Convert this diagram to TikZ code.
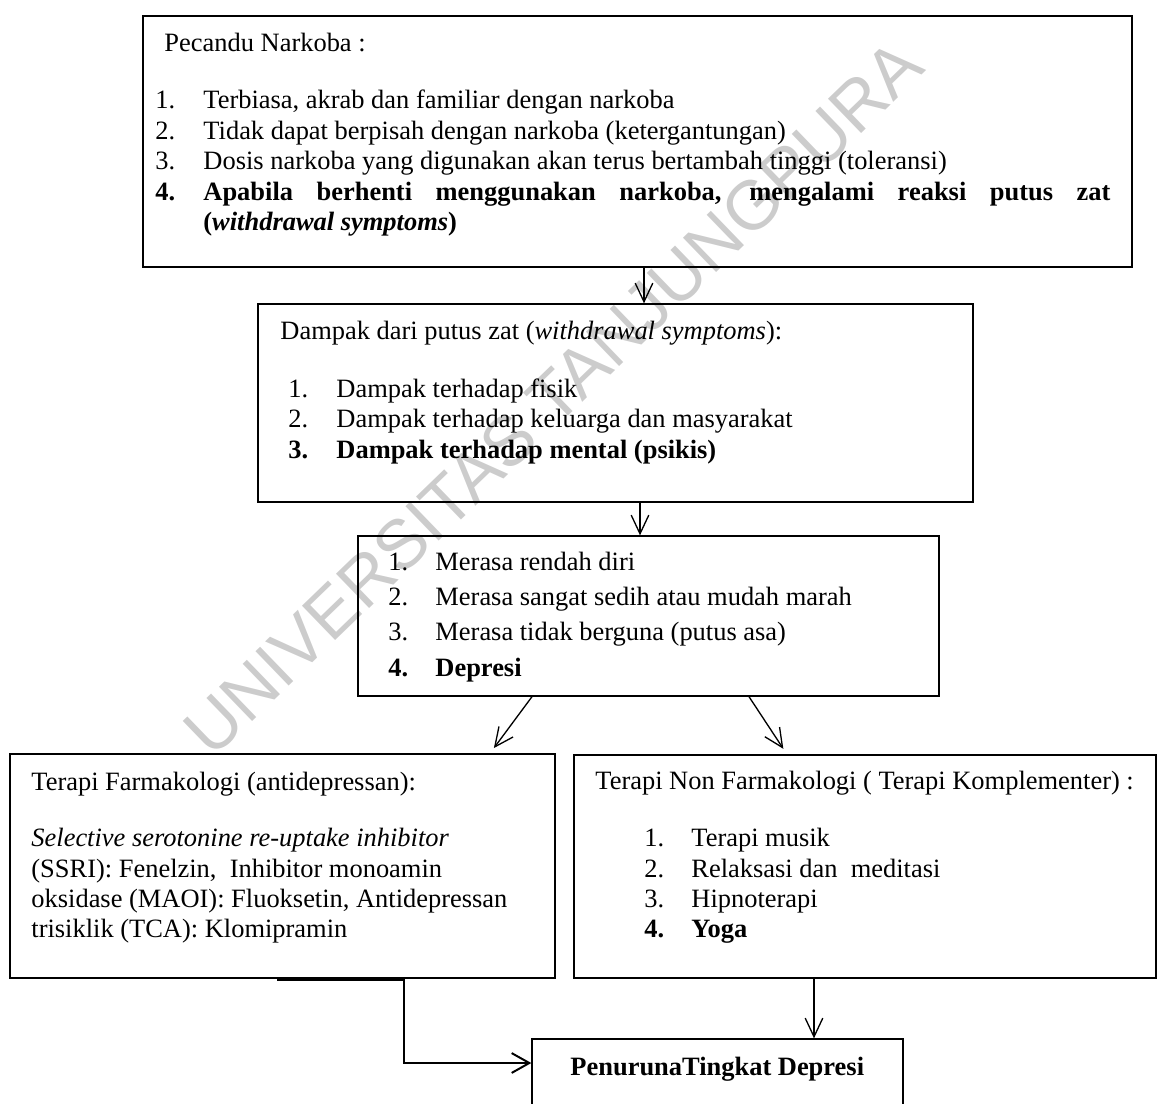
\documentclass[tikz,border=0pt]{standalone}
\usepackage{fontspec}
\setmainfont{Liberation Serif}
\newfontfamily\wmfont{Liberation Sans}
\usetikzlibrary{arrows.meta,fit}
\begin{document}
\begin{tikzpicture}[x=0.4537pt,y=-0.4537pt,
  txt/.style={anchor=base west, inner sep=0pt, font=\fontsize{12pt}{13.8pt}\selectfont},
  btxt/.style={txt, font=\fontsize{12pt}{13.8pt}\selectfont\bfseries},
  box/.style={draw, line width=0.6pt, inner sep=0pt},
  arr/.style={line width=0.6pt, -{Straight Barb[length=8.5pt,width=8pt]}},
  conn/.style={line width=0.9pt, -{Straight Barb[length=8pt,width=9pt]}},
]
\useasboundingbox (0,0) rectangle (1157,1104);
\clip (0,0) rectangle (1157,1104);

% watermark
\node[rotate=44, text=black!20, inner sep=0pt,
      font=\fontsize{31.5pt}{31.5pt}\selectfont\wmfont] (wm) at (553,398) {UNIVERSITAS TANJUNGPURA};

% boxes
\node[box, fit={(143,16) (1132,267)}] (b1) {};
\node[box, fit={(258,304) (973,502)}] (b2) {};
\node[box, fit={(358,536) (939,696)}] (b3) {};
\node[box, fit={(10,754) (555,978)}] (b4) {};
\node[box, fit={(574,755) (1156,978)}] (b5) {};
\node[box, fit={(532,1039) (903,1140)}] (b6) {};

% box 1 text
\node[txt] (t1h) at (164,51) {Pecandu Narkoba :};
\node[txt] (t1n1) at (155,108.5) {1.};
\node[txt] (t1i1) at (203,108.5) {Terbiasa, akrab dan familiar dengan narkoba};
\node[txt] (t1n2) at (155,139) {2.};
\node[txt] (t1i2) at (203,139) {Tidak dapat berpisah dengan narkoba (ketergantungan)};
\node[txt] (t1n3) at (155,169.5) {3.};
\node[txt] (t1i3) at (203,169.5) {Dosis narkoba yang digunakan akan terus bertambah tinggi (toleransi)};
\node[btxt] (t1n4) at (155,200) {4.};
\node[btxt] (t1i4) at (203,200) {\makebox[411.5pt][s]{Apabila berhenti menggunakan narkoba, mengalami reaksi putus zat}};
\node[btxt] (t1i4b) at (203,230.5) {(\textit{withdrawal symptoms})};

% box 2 text
\node[txt] (t2h) at (280,339) {Dampak dari putus zat (\textit{withdrawal symptoms}):};
\node[txt] (t2n1) at (288,397) {1.};
\node[txt] (t2i1) at (336,397) {Dampak terhadap fisik};
\node[txt] (t2n2) at (288,427.5) {2.};
\node[txt] (t2i2) at (336,427.5) {Dampak terhadap keluarga dan masyarakat};
\node[btxt] (t2n3) at (288,458) {3.};
\node[btxt] (t2i3) at (336,458) {Dampak terhadap mental (psikis)};

% box 3 text
\node[txt] (t3n1) at (388,570) {1.};
\node[txt] (t3i1) at (435,570) {Merasa rendah diri};
\node[txt] (t3n2) at (388,605.3) {2.};
\node[txt] (t3i2) at (435,605.3) {Merasa sangat sedih atau mudah marah};
\node[txt] (t3n3) at (388,640.6) {3.};
\node[txt] (t3i3) at (435,640.6) {Merasa tidak berguna (putus asa)};
\node[btxt] (t3n4) at (388,676) {4.};
\node[btxt] (t3i4) at (435,676) {Depresi};

% box 4 text
\node[txt] (t4h) at (31,790) {Terapi Farmakologi (antidepressan):};
\node[txt] (t4l1) at (31,846.5) {\textit{Selective serotonine re-uptake inhibitor}};
\node[txt] (t4l2) at (31,877) {(SSRI): Fenelzin,\ \ Inhibitor monoamin};
\node[txt] (t4l3) at (31,907.3) {oksidase (MAOI): Fluoksetin, Antidepressan};
\node[txt] (t4l4) at (31,937.7) {trisiklik (TCA): Klomipramin};

% box 5 text
\node[txt] (t5h) at (595,789) {Terapi Non Farmakologi ( Terapi Komplementer) :};
\node[txt] (t5n1) at (644,846.5) {1.};
\node[txt] (t5i1) at (691,846.5) {Terapi musik};
\node[txt] (t5n2) at (644,877) {2.};
\node[txt] (t5i2) at (691,877) {Relaksasi dan\ \ meditasi};
\node[txt] (t5n3) at (644,907.3) {3.};
\node[txt] (t5i3) at (691,907.3) {Hipnoterapi};
\node[btxt] (t5n4) at (644,937.7) {4.};
\node[btxt] (t5i4) at (691,937.7) {Yoga};

% box 6 text
\node[btxt] (t6) at (570,1075) {PenurunaTingkat Depresi};

% connectors
\coordinate (x1) at (644,0);
\coordinate (x2) at (640,0);
\coordinate (x5) at (814,0);
\draw[arr] (x1 |- b1.south) -- (x1 |- b2.north);
\draw[arr] (x2 |- b2.south) -- (x2 |- b3.north);
\coordinate (s3l) at (532,0);
\coordinate (e4) at (490,0);
\coordinate (s3r) at (749,0);
\coordinate (e5) at (787,0);
\draw[arr, shorten >=3pt] (s3l |- b3.south) -- (e4 |- b4.north);
\draw[arr, shorten >=3pt] (s3r |- b3.south) -- (e5 |- b5.north);
\draw[arr] (x5 |- b5.south) -- (x5 |- b6.north);
\coordinate (c1) at (277,980);
\coordinate (c2) at (404,980);
\coordinate (c3) at (404,1063);
\draw[conn] (c1) -- (c2) -- (c3) -- (c3 -| b6.west);
\end{tikzpicture}
\end{document}
